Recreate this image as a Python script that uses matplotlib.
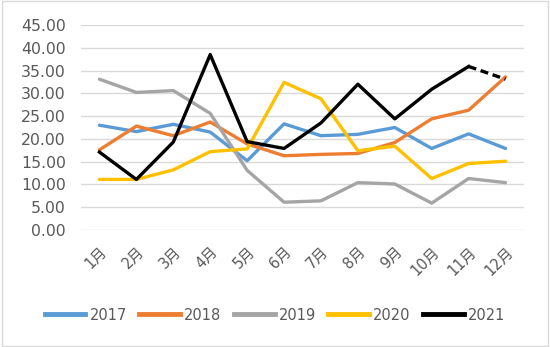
import numpy as np
import matplotlib.pyplot as plt
from matplotlib.patches import Rectangle
from matplotlib.lines import Line2D

plt.rcParams['font.family'] = ['DejaVu Sans', 'Noto Sans CJK SC']

months = ['1月', '2月', '3月', '4月', '5月', '6月', '7月', '8月', '9月', '10月', '11月', '12月']
y2017 = [23.0, 21.6, 23.2, 21.5, 15.2, 23.3, 20.7, 21.0, 22.5, 17.9, 21.1, 17.9]
y2018 = [17.6, 22.8, 20.7, 23.7, 18.9, 16.3, 16.6, 16.8, 19.2, 24.4, 26.3, 33.6]
y2019 = [33.1, 30.2, 30.6, 25.6, 13.1, 6.1, 6.4, 10.4, 10.1, 5.9, 11.3, 10.4]
y2020 = [11.1, 11.1, 13.2, 17.2, 17.8, 32.4, 28.8, 17.4, 18.4, 11.3, 14.6, 15.1]
y2021 = [17.1, 11.1, 19.3, 38.5, 19.4, 17.9, 23.5, 32.0, 24.4, 30.9, 35.9, 33.1]

years = ['2017', '2018', '2019', '2020', '2021']
colors = ['#5B9BD5', '#ED7D31', '#A5A5A5', '#FFC000', '#000000']
series = [y2017, y2018, y2019, y2020, y2021]

fig = plt.figure(figsize=(5.5, 3.47), dpi=100)
ax = fig.add_axes([81 / 550, 117 / 347, 443 / 550, 205 / 347])

x = np.arange(len(months))
lw = 2.4
for yr, c, s in zip(years[:4], colors[:4], series[:4]):
    ax.plot(x, s, color=c, linewidth=lw, solid_capstyle='round', zorder=2)
# 2021: last month still an estimate, drawn dashed
ax.plot(x[:11], y2021[:11], color=colors[4], linewidth=lw, zorder=3)
ax.plot(x[10:], y2021[10:], color=colors[4], linewidth=lw, linestyle=(0, (2.4, 1.4)), zorder=3)

ax.set_xlim(-0.5, 11.5)
ax.set_ylim(0, 45)
ax.set_yticks(np.arange(0, 46, 5))
ax.set_yticklabels(['%.2f' % v for v in np.arange(0, 46, 5)])
ax.set_xticks(x)
ax.set_xticklabels(months, rotation=45, ha='right', va='top', rotation_mode='anchor')
ax.grid(axis='y', color='#D9D9D9', linewidth=1)
ax.set_axisbelow(True)
for sp in ax.spines.values():
    sp.set_visible(False)
ax.tick_params(length=0, labelcolor='#595959')
ax.tick_params(axis='y', pad=11, labelsize=11.3)
ax.tick_params(axis='x', pad=10, labelsize=10.5)

handles = [Line2D([], [], color=c, linewidth=3.5) for c in colors]
fig.legend(handles, years, loc='center', bbox_to_anchor=(0.5, 32 / 347), ncol=5,
           frameon=False, fontsize=10.5, handlelength=2.8, handletextpad=0.28,
           columnspacing=0.85, labelcolor='#595959')

fig.patches.append(Rectangle((0.003, 0.004), 0.994, 0.992, transform=fig.transFigure,
                             fill=False, edgecolor='#D9D9D9', linewidth=1))

fig.savefig('out.png', dpi=100)
